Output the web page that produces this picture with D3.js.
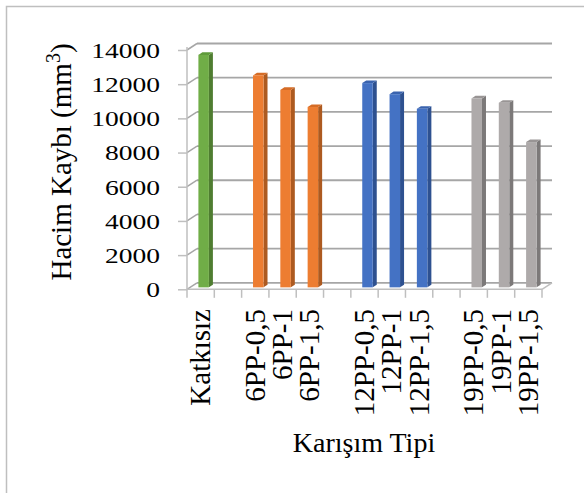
<!DOCTYPE html>
<html>
<head>
<meta charset="utf-8">
<script src="https://cdn.jsdelivr.net/npm/d3@7"></script>
<style>
  html, body { margin: 0; padding: 0; background: #fff; }
  svg { display: block; }
  text { font-family: "Liberation Serif", "Times New Roman", serif; fill: #000; }
</style>
</head>
<body>
<svg id="chart" width="584" height="493"></svg>
<script>
// Mixture types (blank slots separate the fibre groups)
const categories = ["Katkısız", "", "6PP-0,5", "6PP-1", "6PP-1,5", "", "12PP-0,5", "12PP-1", "12PP-1,5", "", "19PP-0,5", "19PP-1", "19PP-1,5"];
// Volume loss, mm³
const values = [13600, null, 12400, 11550, 10550, null, 11950, 11300, 10450, null, 11050, 10800, 8500];
// Colour group of each slot
const groupOf = ["ref", null, "pp6", "pp6", "pp6", null, "pp12", "pp12", "pp12", null, "pp19", "pp19", "pp19"];
const yTicks = [0, 2000, 4000, 6000, 8000, 10000, 12000, 14000];

const palette = {
  ref:  { front: "#70ad47", side: "#4f7d31", top: "#5e9a3a" },
  pp6:  { front: "#ed7d31", side: "#ad5a20", top: "#d56c26" },
  pp12: { front: "#4472c4", side: "#2e5190", top: "#3a63ae" },
  pp19: { front: "#aeaaaa", side: "#7c7979", top: "#999595" }
};

const svg = d3.select("#chart");

// Chart frame
svg.append("rect")
  .attr("x", 6.5).attr("y", 6.5).attr("width", 620).attr("height", 520)
  .attr("fill", "none").attr("stroke", "#bfbfbf").attr("stroke-width", 1.5);

const x = d3.scaleBand().domain(d3.range(categories.length)).range([187, 542]).paddingInner(0).paddingOuter(0);
const y = d3.scaleLinear().domain([0, 14000]).range([289.3, 50]);

// Depth of the 3D box
const DX = 10, DY = -6.5;
const gridColor = "#a6a6a6";

const grid = svg.append("g");
// back wall gridlines
grid.selectAll("line.back").data(yTicks).join("line")
  .attr("x1", x.range()[0] + DX).attr("x2", x.range()[1] + DX)
  .attr("y1", d => y(d) + DY).attr("y2", d => y(d) + DY)
  .attr("stroke", gridColor).attr("stroke-width", 1.8);
// side wall gridlines
grid.selectAll("line.side").data(yTicks).join("line")
  .attr("x1", x.range()[0]).attr("x2", x.range()[0] + DX)
  .attr("y1", d => y(d)).attr("y2", d => y(d) + DY)
  .attr("stroke", gridColor).attr("stroke-width", 1.5);
// floor outline
grid.append("line")
  .attr("x1", x.range()[0]).attr("x2", x.range()[1])
  .attr("y1", y(0)).attr("y2", y(0))
  .attr("stroke", "#bfbfbf").attr("stroke-width", 1.5);
grid.append("line")
  .attr("x1", x.range()[1]).attr("x2", x.range()[1] + DX)
  .attr("y1", y(0)).attr("y2", y(0) + DY)
  .attr("stroke", "#bfbfbf").attr("stroke-width", 1.5);

// Y axis on the front plane
const yAxis = svg.append("g")
  .attr("transform", `translate(${x.range()[0]},0)`)
  .call(d3.axisLeft(y).tickValues(yTicks).tickSize(9).tickSizeOuter(0).tickFormat(d3.format("d")));
yAxis.select(".domain").attr("stroke", "#bfbfbf").attr("stroke-width", 1.5)
  .attr("d", `M0,${y(0)}V${y(14000) - 3}`);
yAxis.selectAll(".tick line").attr("stroke", "#bfbfbf").attr("stroke-width", 1.5);
yAxis.selectAll(".tick text")
  .attr("x", 0).attr("dy", "0.34em")
  .attr("transform", "translate(-27,0) scale(1.28,1)")
  .style("font-family", "'Liberation Serif', serif")
  .style("font-size", "21.5px").attr("fill", "#000");

// Category tick marks at slot boundaries
const bounds = d3.range(categories.length + 1).map(i => x.range()[0] + i * x.step());
svg.append("g").selectAll("line").data(bounds).join("line")
  .attr("x1", d => d).attr("x2", d => d)
  .attr("y1", y(0)).attr("y2", y(0) + 8.5)
  .attr("stroke", "#bfbfbf").attr("stroke-width", 1.5);

// 3D columns
const f0 = 0.3, depth = 0.4;
const bw = 10.5;
const bars = svg.append("g");
values.forEach((v, i) => {
  if (v == null) return;
  const c = palette[groupOf[i]];
  const cx = x(i) + x.bandwidth() / 2;
  const xl = cx - bw / 2 + DX * f0, xr = xl + bw;
  const yb = y(0) + DY * f0, yt = y(v) + DY * f0;
  const ddx = DX * depth, ddy = DY * depth;
  const g = bars.append("g");
  g.append("polygon")
    .attr("points", [[xr, yt], [xr + ddx, yt + ddy], [xr + ddx, yb + ddy], [xr, yb]].join(" "))
    .attr("fill", c.side);
  g.append("polygon")
    .attr("points", [[xl, yt], [xr, yt], [xr + ddx, yt + ddy], [xl + ddx, yt + ddy]].join(" "))
    .attr("fill", c.top);
  g.append("rect")
    .attr("x", xl).attr("y", yt).attr("width", bw).attr("height", yb - yt)
    .attr("fill", c.front);
});

// Category labels
svg.append("g").selectAll("text").data(categories.map((t, i) => ({ t, i })).filter(d => d.t)).join("text")
  .attr("transform", d => `translate(${x(d.i) + x.bandwidth() / 2},309) rotate(-90)`)
  .attr("text-anchor", "end").attr("dy", "0.33em")
  .style("font-size", "29px")
  .text(d => d.t);

// Axis titles
const yt = svg.append("text")
  .attr("transform", "translate(71,162) rotate(-90)")
  .attr("text-anchor", "middle")
  .style("font-size", "29px");
yt.append("tspan").text("Hacim Kaybı (mm");
yt.append("tspan").attr("baseline-shift", "super").style("font-size", "20px").text("3");
yt.append("tspan").text(")");

svg.append("text")
  .attr("x", 364).attr("y", 452)
  .attr("text-anchor", "middle")
  .style("font-size", "28px")
  .text("Karışım Tipi");
</script>
</body>
</html>
